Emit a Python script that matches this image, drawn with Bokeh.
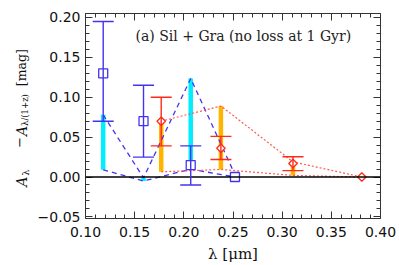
import math
from bokeh.plotting import figure
from bokeh.layouts import row
from bokeh.models import (ColumnDataSource, Whisker, TeeHead, Span, Label, LinearAxis,
                          SingleIntervalTicker, CustomJSTickFormatter, Range1d)
from bokeh.core.properties import value
from bokeh.embed import file_html
from bokeh.resources import INLINE

# ---------------- data ----------------
lam_b = [0.118, 0.159, 0.207, 0.252]
Ab = [0.130, 0.070, 0.015, 0.000]
lam_b_err = [0.118, 0.159, 0.207]
Ab_hi = [0.195, 0.115, 0.039]
Ab_lo = [0.070, 0.025, -0.010]
b_mod_hi = [0.078, -0.001, 0.1235, 0.003]
b_mod_lo = [0.009, -0.005, 0.0098, 0.000]

lam_r = [0.177, 0.2377, 0.311, 0.381]
Ar = [0.070, 0.036, 0.017, 0.000]
lam_r_err = [0.177, 0.2377, 0.311]
Ar_hi = [0.100, 0.051, 0.0255]
Ar_lo = [0.039, 0.022, 0.008]
r_mod_hi = [0.070, 0.089, 0.019, 0.000]
r_mod_lo = [0.0065, 0.0095, 0.002, 0.000]

x_range = (0.10, 0.40)
y_range = (-0.052, 0.205)
title_text = "(a) Sil + Gra (no loss at 1 Gyr)"
x_label = "λ [μm]"
ylab_parts = ["A", "λ", "\u2212", "A", "λ/(1+z)", "[mag]"]

BLUE = "#4433ee"
RED = "#ff2a1a"
RED_L = "#ff5a50"
CYAN = "#00eeff"
ORANGE = "#ffb400"
AX = "#333333"

LW = 34  # width of the y-label strip
FT, FB = 13, 219  # frame top / bottom in page pixels

p = figure(width=399 - LW, height=265, output_backend="svg", toolbar_location=None,
           x_range=Range1d(*x_range), y_range=Range1d(*y_range),
           min_border_left=80 - LW, min_border_right=19, min_border_top=FT,
           min_border_bottom=265 - FB)
p.background_fill_color = "white"
p.border_fill_color = "white"
p.outline_line_color = None
p.xgrid.visible = False
p.ygrid.visible = False

fmt_x = CustomJSTickFormatter(code="return tick.toFixed(2);")
fmt_y = CustomJSTickFormatter(code="return (tick < -1e-9 ? '\u2212' : '') + Math.abs(tick).toFixed(2);")

def style_axis(ax, labels=True):
    ax.axis_line_color = AX
    ax.axis_line_width = 1
    ax.major_tick_line_color = AX
    ax.minor_tick_line_color = AX
    ax.major_tick_in = 7
    ax.major_tick_out = 0
    ax.minor_tick_in = 4
    ax.minor_tick_out = 0
    if labels:
        ax.major_label_text_font = "DejaVu Sans"
        ax.major_label_text_font_size = "14px"
        ax.major_label_text_color = "#111111"
    else:
        ax.major_label_text_font_size = "0px"
        ax.major_label_text_color = None
        ax.major_label_standoff = 0

xa = p.xaxis[0]
xa.ticker = SingleIntervalTicker(interval=0.05, num_minor_ticks=5)
xa.formatter = fmt_x
style_axis(xa)
xa.major_label_standoff = 8
xa.axis_label = x_label
xa.axis_label_text_font = "DejaVu Serif"
xa.axis_label_text_font_style = "normal"
xa.axis_label_text_font_size = "15px"
xa.axis_label_standoff = 5
xa.axis_label_text_color = "#111111"

ya = p.yaxis[0]
ya.ticker = SingleIntervalTicker(interval=0.05, num_minor_ticks=5)
ya.formatter = fmt_y
style_axis(ya)
ya.major_label_standoff = 5

top = LinearAxis(ticker=SingleIntervalTicker(interval=0.05, num_minor_ticks=5), formatter=fmt_x)
style_axis(top, labels=False)
p.add_layout(top, "above")
right = LinearAxis(ticker=SingleIntervalTicker(interval=0.05, num_minor_ticks=5), formatter=fmt_y)
style_axis(right, labels=False)
p.add_layout(right, "right")

# model range bars
p.segment(x0=lam_b, y0=b_mod_lo, x1=lam_b, y1=b_mod_hi, line_color=CYAN, line_width=4.5)
p.segment(x0=lam_r, y0=r_mod_lo, x1=lam_r, y1=r_mod_hi, line_color=ORANGE, line_width=4.5)

# envelope lines
p.line(lam_b, b_mod_hi, line_color=BLUE, line_width=1.3, line_dash="5 4")
p.line(lam_b, b_mod_lo, line_color=BLUE, line_width=1.3, line_dash="5 4")
p.line(lam_r, r_mod_hi, line_color=RED_L, line_width=1.2, line_dash="2 2")
p.line(lam_r, r_mod_lo, line_color=RED_L, line_width=1.2, line_dash="2 2")

# zero line
p.add_layout(Span(location=0, dimension="width", line_color="black", line_width=1.6))

# markers
p.scatter(lam_b, Ab, marker="square", size=9, line_color=BLUE, fill_color="white", line_width=1.3)
p.scatter(lam_r, Ar, marker="square", angle=math.pi / 4, size=6, line_color=RED,
          fill_color="white", line_width=1.3)

# error bars
src_b = ColumnDataSource(dict(x=lam_b_err, hi=Ab_hi, lo=Ab_lo))
src_r = ColumnDataSource(dict(x=lam_r_err, hi=Ar_hi, lo=Ar_lo))
for src, col in ((src_b, BLUE), (src_r, RED)):
    w = Whisker(source=src, base="x", upper="hi", lower="lo", line_color=col, line_width=1.4,
                upper_head=TeeHead(size=21, line_color=col, line_width=1.4),
                lower_head=TeeHead(size=21, line_color=col, line_width=1.4),
                level="annotation")
    p.add_layout(w)

# annotation text
p.add_layout(Label(x=50, y=183, x_units="screen", y_units="screen", text=title_text,
                   text_font="DejaVu Serif", text_font_size="14px", text_color="#222222",
                   text_baseline="alphabetic", text_align="left"))

# ---------------- y-axis label strip ----------------
# the row aligns this strip's frame with the main frame, so map page rows FT..FB
lab = figure(width=LW, height=265, output_backend="svg", toolbar_location=None,
             x_range=Range1d(0, LW), y_range=Range1d(FB, FT),
             min_border_left=0, min_border_right=0, min_border_top=FT,
             min_border_bottom=265 - FB)
lab.axis.visible = False
lab.grid.visible = False
lab.outline_line_color = None
lab.background_fill_color = "white"
lab.border_fill_color = "white"

ang = math.pi / 2
# (baseline x, start y, size, style) for each part, in page pixels
part_pos = [(21, 187, "14px", "italic"),
            (24.5, 176, "10px", "normal"),
            (18, 148, "13px", "normal"),
            (21, 136, "14px", "italic"),
            (24.5, 126, "8.5px", "normal"),
            (21, 86, "12.5px", "normal")]
for txt, (xx, yy, fs, st) in zip(ylab_parts, part_pos):
    lab.text(x=[xx], y=[yy], text=[txt], angle=ang, text_font=value("DejaVu Serif"),
             text_font_size=fs, text_font_style=st, text_color="#111111",
             text_baseline="alphabetic", text_align="left")

layout = row(lab, p)
open("out.html", "w").write(file_html(layout, INLINE))
